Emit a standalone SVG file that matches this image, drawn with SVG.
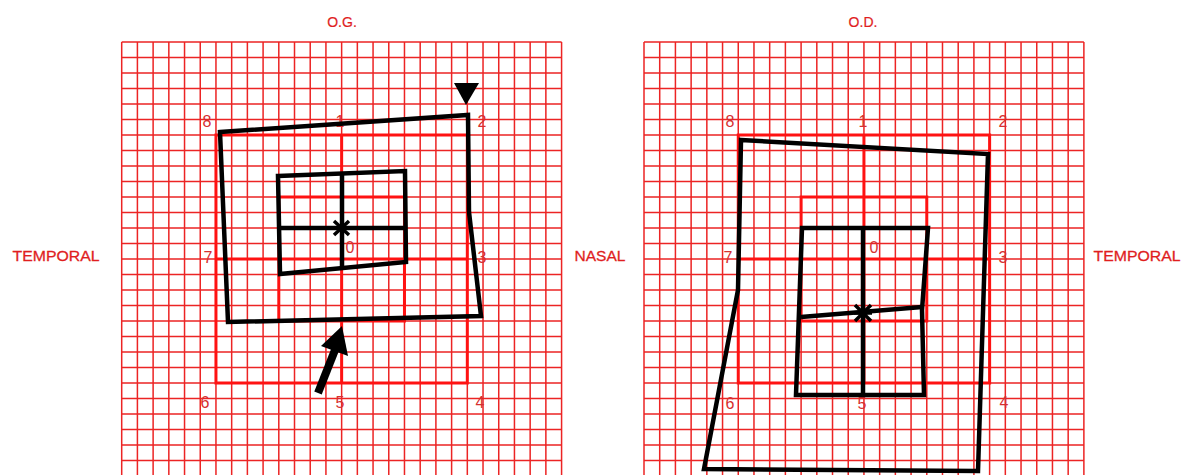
<svg xmlns="http://www.w3.org/2000/svg" xmlns:xlink="http://www.w3.org/1999/xlink" width="1194" height="475" viewBox="0 0 1194 475">
<style>
.thin{fill:none;stroke:#ec2424;stroke-width:1.5}
.thick{fill:none;stroke:#ff1212;stroke-width:3}
.lbl{font-family:"Liberation Sans",Arial,sans-serif;font-size:16px;fill:#d63030;text-anchor:middle}
.side{font-family:"Liberation Sans",Arial,sans-serif;font-size:15.5px;fill:#e01e1e;text-anchor:middle;stroke:#e01e1e;stroke-width:0.3}
.ttl{font-family:"Liberation Sans",Arial,sans-serif;font-size:14px;fill:#e01e1e;text-anchor:middle;stroke:#e01e1e;stroke-width:0.2}
.bk{fill:none;stroke:#000;stroke-width:4.5;stroke-linejoin:miter}
.star{fill:none;stroke:#000;stroke-width:3.5}
.shaft{fill:none;stroke:#000;stroke-width:8}
.bkf{fill:#000;stroke:none}
</style>
<defs>
<g id="grid">
<path class="thin" vector-effect="non-scaling-stroke" d="M0 0V29M1 0V29M2 0V29M3 0V29M4 0V29M5 0V29M6 0V29M7 0V29M8 0V29M9 0V29M10 0V29M11 0V29M12 0V29M13 0V29M14 0V29M15 0V29M16 0V29M17 0V29M18 0V29M19 0V29M20 0V29M21 0V29M22 0V29M23 0V29M24 0V29M25 0V29M26 0V29M27 0V29M28 0V29M0 0H28M0 1H28M0 2H28M0 3H28M0 4H28M0 5H28M0 6H28M0 7H28M0 8H28M0 9H28M0 10H28M0 11H28M0 12H28M0 13H28M0 14H28M0 15H28M0 16H28M0 17H28M0 18H28M0 19H28M0 20H28M0 21H28M0 22H28M0 23H28M0 24H28M0 25H28M0 26H28M0 27H28M0 28H28"/>
<path class="thick" vector-effect="non-scaling-stroke" d="M6 6H22V22H6ZM10 10H18V18H10ZM14 6V22M6 14H22"/>
</g>
</defs>

<g id="titles">
<text class="ttl" x="342" y="27">O.G.</text>
<text class="ttl" x="863" y="27">O.D.</text>
<text class="side" x="56" y="261" textLength="87" lengthAdjust="spacingAndGlyphs">TEMPORAL</text>
<text class="side" x="600" y="261">NASAL</text>
<text class="side" x="1137" y="261" textLength="87" lengthAdjust="spacingAndGlyphs">TEMPORAL</text>
</g>

<g id="grid-og">
<use xlink:href="#grid" href="#grid" transform="translate(121.7,42) scale(15.71,15.5)"/>
<text class="lbl" x="207" y="127">8</text>
<text class="lbl" x="340" y="127">1</text>
<text class="lbl" x="482" y="127">2</text>
<text class="lbl" x="208" y="263">7</text>
<text class="lbl" x="350" y="253">0</text>
<text class="lbl" x="482" y="263">3</text>
<text class="lbl" x="205" y="408">6</text>
<text class="lbl" x="340" y="408">5</text>
<text class="lbl" x="480" y="408">4</text>
</g>

<g id="grid-od">
<use xlink:href="#grid" href="#grid" transform="translate(644,42) scale(15.71,15.5)"/>
<text class="lbl" x="730" y="127">8</text>
<text class="lbl" x="863" y="127">1</text>
<text class="lbl" x="1003" y="127">2</text>
<text class="lbl" x="728" y="263">7</text>
<text class="lbl" x="874" y="253">0</text>
<text class="lbl" x="1003" y="263">3</text>
<text class="lbl" x="730" y="409">6</text>
<text class="lbl" x="862" y="409">5</text>
<text class="lbl" x="1004" y="408">4</text>
</g>

<g id="og-drawing">
<polygon class="bk" points="220,132 468,115 469,212 481,316 228,322"/>
<polygon class="bk" points="278,176 405,171 406,262 280,274"/>
<path class="bk" d="M278 228H405M342 172V268"/>
<path class="star" d="M334 221L349 235M349 221L334 235M333 228H350"/>
<polygon class="bkf" points="454,83 479,83 466,105"/>
<path class="shaft" d="M318 393L335 350"/>
<polygon class="bkf" points="342,326 348,356 321,346"/>
</g>

<g id="od-drawing">
<polygon class="bk" points="741,140 988,154 978,471 704,469 738,290"/>
<polygon class="bk" points="802,228 928,228 922,310 924,395 796,395"/>
<path class="bk" d="M801 317L922 307M863 228V395"/>
<path class="star" d="M855 305L871 321M871 305L855 321M854 313H872"/>
</g>
</svg>
